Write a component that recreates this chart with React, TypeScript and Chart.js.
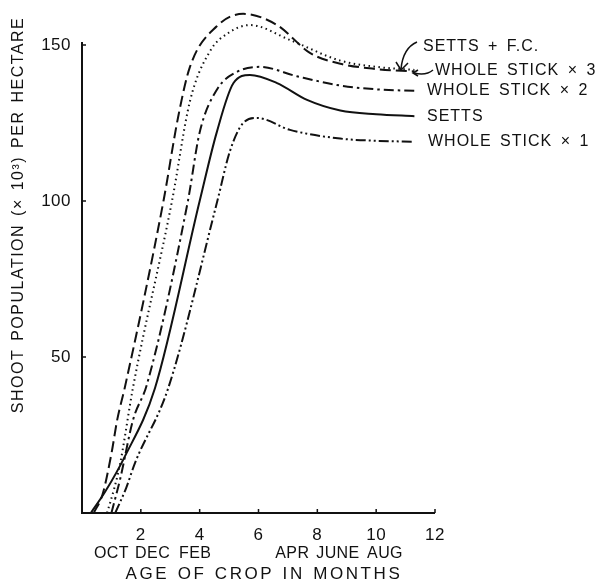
import React, { useEffect, useRef } from "react";
import { Chart, registerables } from "chart.js";

Chart.register(...registerables);

// ---- data (months after planting, shoots ×10³ per ha) ----
const xTickValues = [2, 4, 6, 8, 10, 12];
const yTickValues = [50, 100, 150];
const monthLabels = ["OCT", "DEC", "FEB", "APR", "JUNE", "AUG"];
const monthLabelAt = [1.0, 2.4, 3.85, 7.15, 8.7, 10.3];

const settsFcX = [0.4, 0.7, 1.0, 1.2, 1.45, 2.77, 3.27, 3.67, 4.58, 5.48, 6.63, 7.76, 8.78, 10, 11.3];
const settsFcY = [0, 6, 19, 30, 40, 100, 127, 143, 156, 160, 156.4, 147.4, 144, 142.3, 141.5];

const ws3X = [0.85, 1.1, 1.3, 1.73, 3.06, 3.67, 4.35, 5.0, 5.71, 7.07, 8.78, 10, 11.3];
const ws3Y = [0, 8, 16, 40, 100, 132, 148, 154, 156.4, 151.6, 145, 143, 142];

const ws2X = [1.0, 1.3, 1.74, 2.2, 3.6, 4.0, 4.58, 5.27, 6.05, 7.3, 8.78, 10, 11.3];
const ws2Y = [0, 11, 30, 41, 100, 122, 135.6, 141.4, 143, 140, 137, 135.8, 135.3];

const settsX = [0.3, 0.78, 1.45, 2.48, 4.0, 4.58, 5.15, 5.71, 6.63, 7.65, 8.78, 10, 11.3];
const settsY = [0, 6.7, 18, 40, 100, 122, 137.8, 140.4, 137.8, 132.4, 129, 127.8, 127.2];

const ws1X = [1.13, 1.5, 1.8, 2.93, 4.6, 5.03, 5.48, 5.95, 7.07, 8.78, 10, 11.3];
const ws1Y = [0, 8, 16, 40, 100, 116, 125, 126.6, 122.8, 120, 119.3, 119];

const seriesLabels = ["SETTS + F.C.", "WHOLE STICK × 3", "WHOLE STICK × 2", "SETTS", "WHOLE STICK × 1"];

const xTitle = "AGE OF CROP IN MONTHS";
const yTitle = "SHOOT POPULATION (× 10³) PER HECTARE";

const pts = (xs: number[], ys: number[]) => xs.map((x, i) => ({ x, y: ys[i] }));

const INK = "#111";
const FAMILY = "'Liberation Sans', Arial, sans-serif";

const decor = {
  id: "decor",
  afterDraw(chart: any) {
    const ctx: any = chart.ctx;
    const xs = chart.scales.x;
    const ys = chart.scales.y;
    const x0 = xs.getPixelForValue(0);
    const x12 = xs.getPixelForValue(12);
    const y0 = ys.getPixelForValue(0);
    const yTop = ys.getPixelForValue(150);
    ctx.save();
    ctx.strokeStyle = INK;
    ctx.fillStyle = INK;
    ctx.lineWidth = 2;
    ctx.setLineDash([]);
    // axes
    ctx.beginPath();
    ctx.moveTo(x0, yTop - 3);
    ctx.lineTo(x0, y0);
    ctx.lineTo(x12, y0);
    ctx.stroke();
    ctx.lineWidth = 1.5;
    ctx.beginPath();
    yTickValues.forEach((v) => {
      const y = ys.getPixelForValue(v);
      ctx.moveTo(x0, y);
      ctx.lineTo(x0 + 4, y);
    });
    xTickValues.forEach((v) => {
      const x = xs.getPixelForValue(v);
      ctx.moveTo(x, y0);
      ctx.lineTo(x, y0 - 4);
    });
    ctx.stroke();

    ctx.font = "17px " + FAMILY;
    ctx.letterSpacing = "0.5px";
    ctx.wordSpacing = "0px";
    ctx.textBaseline = "middle";
    // y tick labels
    ctx.textAlign = "right";
    yTickValues.forEach((v) => {
      ctx.fillText(String(v), x0 - 11, ys.getPixelForValue(v));
    });
    // x tick labels
    ctx.textAlign = "center";
    xTickValues.forEach((v) => {
      ctx.fillText(String(v), xs.getPixelForValue(v), y0 + 22);
    });
    ctx.font = "16px " + FAMILY;
    ctx.letterSpacing = "0.4px";
    monthLabels.forEach((m, i) => {
      ctx.fillText(m, xs.getPixelForValue(monthLabelAt[i]), y0 + 41);
    });
    ctx.font = "17px " + FAMILY;
    ctx.letterSpacing = "2.6px";
    ctx.wordSpacing = "1px";
    ctx.fillText(xTitle, 264, y0 + 61);

    // y title
    ctx.save();
    ctx.translate(19, 215);
    ctx.rotate(-Math.PI / 2);
    ctx.font = "16px " + FAMILY;
    ctx.letterSpacing = "1.5px";
    ctx.wordSpacing = "2px";
    ctx.fillText(yTitle, 0, 0);
    ctx.restore();

    // series labels
    ctx.font = "16px " + FAMILY;
    ctx.letterSpacing = "1px";
    ctx.wordSpacing = "3px";
    ctx.textAlign = "left";
    ctx.fillText(seriesLabels[0], 423, 47);
    ctx.fillText(seriesLabels[1], 435, 71);
    ctx.fillText(seriesLabels[2], 427, ys.getPixelForValue(ws2Y[ws2Y.length - 1]));
    ctx.fillText(seriesLabels[3], 427, ys.getPixelForValue(settsY[settsY.length - 1]));
    ctx.fillText(seriesLabels[4], 428, ys.getPixelForValue(ws1Y[ws1Y.length - 1]));

    // arrows
    ctx.lineWidth = 1.5;
    ctx.beginPath();
    ctx.moveTo(417, 42);
    ctx.quadraticCurveTo(403, 48, 401, 69);
    ctx.stroke();
    ctx.beginPath();
    ctx.moveTo(396, 62);
    ctx.lineTo(401, 70);
    ctx.lineTo(408, 63);
    ctx.stroke();
    ctx.beginPath();
    ctx.moveTo(433, 70);
    ctx.quadraticCurveTo(426, 76, 414, 73);
    ctx.stroke();
    ctx.beginPath();
    ctx.moveTo(418, 70);
    ctx.lineTo(413, 73);
    ctx.lineTo(418, 76);
    ctx.stroke();
    ctx.restore();
  },
};

export default function App() {
  const ref = useRef<HTMLCanvasElement | null>(null);
  useEffect(() => {
    document.body.style.margin = "0";
    const canvas = ref.current;
    if (!canvas) return;
    const base = {
      borderColor: INK,
      borderWidth: 2,
      pointRadius: 0,
      fill: false,
      cubicInterpolationMode: "monotone" as const,
      clip: false as any,
    };
    const chart = new Chart(canvas, {
      type: "line",
      data: {
        datasets: [
          { ...base, label: seriesLabels[0], data: pts(settsFcX, settsFcY), borderDash: [11, 5] },
          { ...base, label: seriesLabels[1], data: pts(ws3X, ws3Y), borderDash: [1.5, 3.5], borderWidth: 2 },
          { ...base, label: seriesLabels[2], data: pts(ws2X, ws2Y), borderDash: [10, 4, 2.5, 4] },
          { ...base, label: seriesLabels[3], data: pts(settsX, settsY) },
          { ...base, label: seriesLabels[4], data: pts(ws1X, ws1Y), borderDash: [10, 3, 2, 3, 2, 3] },
        ],
      },
      options: {
        animation: false,
        responsive: false,
        maintainAspectRatio: false,
        layout: { padding: { left: 82, right: 176, top: 45, bottom: 75 } },
        plugins: { legend: { display: false }, tooltip: { enabled: false } },
        scales: {
          x: { type: "linear", min: 0, max: 12, display: false },
          y: { type: "linear", min: 0, max: 150, display: false },
        },
      },
      plugins: [decor],
    });
    return () => chart.destroy();
  }, []);
  return (
    <div style={{ width: 611, height: 588, background: "#fff" }}>
      <canvas ref={ref} width={611} height={588} style={{ display: "block" }} />
    </div>
  );
}
